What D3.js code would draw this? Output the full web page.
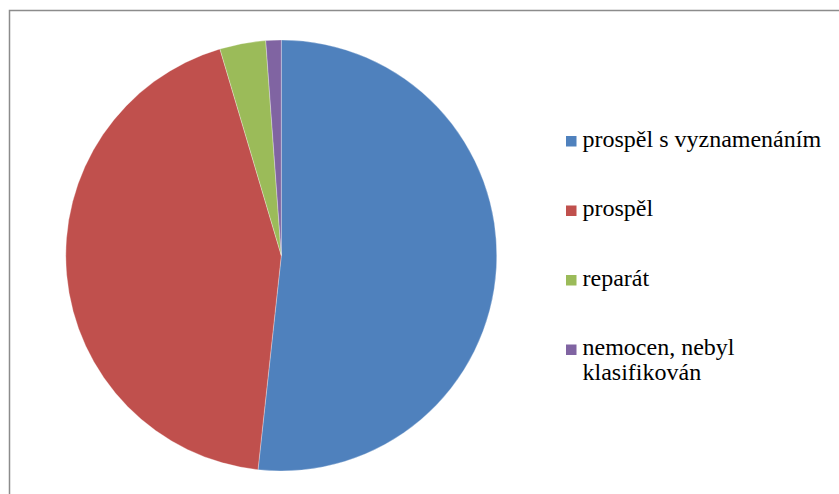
<!DOCTYPE html>
<html>
<head>
<meta charset="utf-8">
<script src="https://cdn.jsdelivr.net/npm/d3@7"></script>
<style>
  html, body { margin: 0; padding: 0; background: #fff; }
  svg { display: block; }
  .leg text { font-family: "Liberation Serif", "Times New Roman", Times, "DejaVu Serif", serif; font-size: 24px; fill: #000; }
</style>
</head>
<body>
<svg id="chart" width="839" height="494"></svg>
<script>
const categories = ["prospěl s vyznamenáním", "prospěl", "reparát", "nemocen, nebyl klasifikován"];
const values = [45, 38, 3, 1];
const legendLines = [["prospěl s vyznamenáním"], ["prospěl"], ["reparát"], ["nemocen, nebyl", "klasifikován"]];
const colors = ["#4F81BD", "#C0504D", "#9BBB59", "#8064A2"];

const svg = d3.select("#chart");

// frame
svg.append("rect")
  .attr("x", 9.5).attr("y", 10.5)
  .attr("width", 850).attr("height", 500)
  .attr("fill", "#fff")
  .attr("stroke", "#8c8c8c")
  .attr("stroke-width", 1.5);

const cx = 281.3, cy = 255.5, r = 215.5;
const data = categories.map((c, i) => ({ name: c, value: values[i], color: colors[i] }));
const pie = d3.pie().value(d => d.value).sort(null);
const arc = d3.arc().innerRadius(0).outerRadius(r);

svg.append("g").attr("transform", `translate(${cx},${cy})`)
  .selectAll("path")
  .data(pie(data))
  .join("path")
  .attr("d", arc)
  .attr("fill", d => d.data.color)
  .attr("stroke", "#ffffff")
  .attr("stroke-opacity", 0.5)
  .attr("stroke-width", 0.6);

// legend
const rowY = d3.scaleLinear().domain([0, 3]).range([146.5, 355]);
const leg = svg.append("g").attr("class", "leg");
data.forEach((d, i) => {
  const by = rowY(i);
  leg.append("rect")
    .attr("x", 566).attr("y", by - 10.5)
    .attr("width", 10.5).attr("height", 10.5)
    .attr("fill", d.color);
  const t = leg.append("text")
    .attr("x", 582.5).attr("y", by);
  legendLines[i].forEach((line, j) => {
    t.append("tspan").attr("x", 582.5).attr("y", by + j * 25).text(line);
  });
});
</script>
</body>
</html>
